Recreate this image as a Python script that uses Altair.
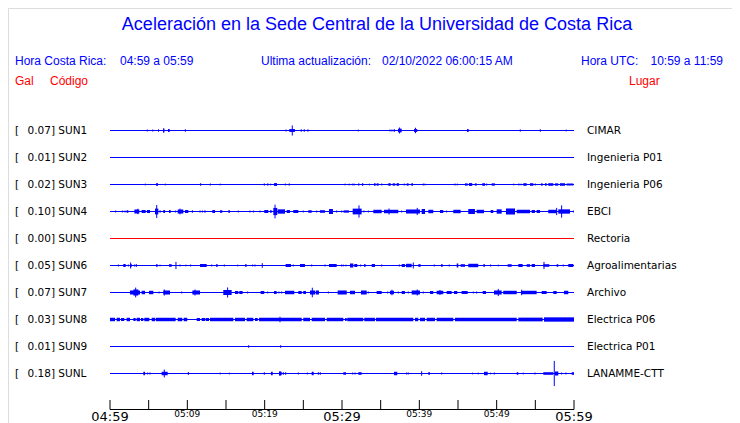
import altair as alt
import pandas as pd

# ---------------- data ----------------
CODES = ["SUN1", "SUN2", "SUN3", "SUN4", "SUN5", "SUN6", "SUN7", "SUN8", "SUN9", "SUNL"]
PEAKS = ["0.07", "0.01", "0.02", "0.10", "0.00", "0.05", "0.07", "0.03", "0.01", "0.18"]
PLACES = ["CIMAR", "Ingenieria P01", "Ingenieria P06", "EBCI", "Rectoria",
          "Agroalimentarias", "Archivo", "Electrica P06", "Electrica P01", "LANAMME-CTT"]

# events per station: (start minute, end minute, half amplitude in gal)
SUN1_EV = [(4.82, 4.82, 0.014), (5.52, 5.52, 0.014), (6.21, 6.34, 0.018), (6.89, 7.02, 0.021),
           (6.95, 6.95, 0.033), (7.50, 7.72, 0.02), (9.74, 9.74, 0.018), (22.76, 22.76, 0.014),
           (23.18, 23.92, 0.02), (23.57, 23.57, 0.07), (24.73, 24.73, 0.018), (25.12, 25.12, 0.018),
           (25.60, 25.60, 0.018), (32.11, 32.11, 0.012), (36.20, 36.20, 0.014), (36.46, 36.46, 0.014),
           (36.76, 36.76, 0.02), (37.24, 37.72, 0.025), (37.45, 37.45, 0.042), (39.31, 39.73, 0.02),
           (39.50, 39.50, 0.038), (46.16, 46.38, 0.02), (53.05, 53.05, 0.016), (55.64, 55.64, 0.018),
           (59.00, 59.00, 0.012)]
SUN2_EV = []
SUN3_EV = [(4.56, 4.56, 0.012), (5.95, 6.21, 0.018), (7.15, 7.15, 0.012), (11.72, 11.72, 0.018),
           (12.97, 12.97, 0.014), (14.26, 14.26, 0.012), (19.95, 19.95, 0.016), (20.34, 20.47, 0.016),
           (20.78, 20.78, 0.012), (21.21, 21.59, 0.02), (22.67, 22.67, 0.014), (23.18, 23.18, 0.016),
           (30.39, 30.39, 0.012), (30.94, 30.94, 0.012), (31.33, 31.33, 0.012), (31.55, 31.55, 0.014),
           (32.11, 32.24, 0.018), (32.58, 32.75, 0.018), (33.53, 33.53, 0.012), (34.14, 34.35, 0.016),
           (34.48, 34.74, 0.016), (35.13, 35.13, 0.014), (35.99, 36.29, 0.018), (36.55, 36.89, 0.016),
           (37.07, 37.37, 0.018), (38.05, 38.05, 0.014), (38.36, 38.62, 0.016), (38.96, 39.18, 0.016),
           (40.51, 40.51, 0.014), (40.73, 40.73, 0.012), (44.61, 44.61, 0.014), (44.91, 44.91, 0.012),
           (45.90, 46.25, 0.016), (46.42, 46.84, 0.02), (47.19, 47.41, 0.016), (48.14, 48.49, 0.018),
           (48.71, 48.71, 0.014), (49.35, 49.78, 0.016), (52.20, 52.20, 0.012), (52.88, 52.88, 0.014),
           (53.14, 53.14, 0.012), (53.44, 53.88, 0.018), (54.31, 54.74, 0.018), (54.99, 54.99, 0.014),
           (55.73, 55.95, 0.016), (56.25, 56.46, 0.016), (56.67, 57.32, 0.018), (57.54, 57.97, 0.016),
           (58.19, 58.83, 0.018), (59.05, 59.91, 0.014)]
SUN4_EV = [(0.73, 0.73, 0.014), (1.60, 1.60, 0.014), (1.94, 1.94, 0.014), (2.15, 2.37, 0.018),
           (3.15, 3.79, 0.028), (3.60, 3.60, 0.038), (4.09, 4.61, 0.021), (4.78, 5.17, 0.021),
           (5.82, 6.25, 0.04), (6.04, 6.04, 0.09), (6.47, 6.47, 0.018), (6.89, 7.11, 0.021),
           (7.63, 7.84, 0.021), (8.49, 8.49, 0.014), (8.75, 9.48, 0.028), (9.05, 9.05, 0.04),
           (9.70, 10.13, 0.021), (10.65, 10.65, 0.018), (11.64, 11.64, 0.014), (11.94, 11.94, 0.014),
           (12.28, 12.28, 0.018), (13.23, 13.58, 0.021), (14.22, 14.52, 0.018), (15.30, 15.52, 0.018),
           (16.59, 16.59, 0.014), (18.10, 18.10, 0.014), (18.53, 18.53, 0.014), (19.40, 19.40, 0.014),
           (19.95, 20.47, 0.021), (20.69, 20.91, 0.018), (21.12, 21.63, 0.05), (21.34, 21.34, 0.095),
           (21.68, 22.63, 0.03), (22.85, 23.27, 0.021), (23.70, 24.35, 0.021), (24.99, 24.99, 0.014),
           (25.64, 26.08, 0.018), (26.72, 26.72, 0.014), (27.15, 27.80, 0.018), (28.32, 28.83, 0.035),
           (29.31, 29.31, 0.014), (29.96, 29.96, 0.014), (30.20, 30.90, 0.016), (31.46, 31.81, 0.021),
           (31.38, 32.54, 0.04), (32.20, 32.20, 0.085), (32.84, 32.84, 0.014), (33.40, 33.40, 0.014),
           (34.05, 35.13, 0.024), (35.43, 37.28, 0.024), (36.08, 36.08, 0.042), (37.72, 37.72, 0.014),
           (38.27, 40.08, 0.028), (39.73, 39.73, 0.05), (40.30, 40.73, 0.035), (41.16, 41.80, 0.024),
           (42.67, 43.10, 0.021), (43.53, 43.53, 0.014), (44.39, 45.34, 0.024), (46.33, 47.19, 0.035),
           (47.41, 48.36, 0.024), (49.22, 49.56, 0.021), (50.00, 50.65, 0.03), (51.20, 52.37, 0.042),
           (52.59, 54.31, 0.024), (54.53, 54.95, 0.021), (55.17, 55.60, 0.021), (56.67, 57.76, 0.024),
           (57.76, 57.76, 0.05), (57.97, 59.48, 0.03), (58.40, 58.40, 0.085), (59.91, 59.91, 0.014)]
SUN5_EV = []
SUN6_EV = [(1.08, 1.08, 0.014), (1.72, 2.03, 0.021), (2.37, 2.37, 0.014), (2.59, 2.80, 0.02),
           (2.67, 2.67, 0.042), (3.15, 3.15, 0.014), (3.32, 3.49, 0.016), (5.95, 6.17, 0.016),
           (6.47, 6.47, 0.012), (7.63, 7.98, 0.018), (8.53, 8.53, 0.05), (9.05, 9.05, 0.014),
           (9.83, 9.83, 0.012), (10.43, 10.43, 0.014), (11.64, 12.50, 0.021), (13.15, 13.15, 0.014),
           (13.71, 13.93, 0.018), (14.78, 14.78, 0.014), (16.51, 16.51, 0.012), (17.46, 17.67, 0.018),
           (18.45, 18.45, 0.014), (18.75, 18.75, 0.014), (19.69, 19.69, 0.032), (22.71, 23.40, 0.021),
           (23.70, 23.70, 0.014), (24.57, 25.21, 0.021), (26.08, 26.08, 0.014), (27.80, 27.80, 0.014),
           (28.32, 29.31, 0.021), (29.96, 29.96, 0.014), (30.17, 30.17, 0.012), (30.51, 30.51, 0.012),
           (31.03, 31.46, 0.028), (31.59, 31.98, 0.021), (32.41, 32.41, 0.014), (32.84, 33.06, 0.018),
           (33.84, 34.26, 0.021), (35.13, 35.13, 0.014), (37.41, 37.41, 0.014), (37.72, 38.14, 0.021),
           (38.27, 39.01, 0.024), (39.22, 39.22, 0.042), (39.86, 40.17, 0.018), (41.93, 41.93, 0.014),
           (42.80, 43.02, 0.018), (43.87, 43.87, 0.014), (44.83, 45.04, 0.028), (45.34, 45.90, 0.018),
           (46.33, 47.62, 0.024), (48.27, 48.49, 0.018), (49.22, 49.22, 0.014), (50.21, 50.21, 0.012),
           (51.42, 51.94, 0.018), (52.80, 53.36, 0.021), (53.88, 54.31, 0.018), (54.53, 54.95, 0.021),
           (56.03, 56.80, 0.018), (56.12, 56.12, 0.05), (57.76, 57.97, 0.018), (58.61, 58.61, 0.014),
           (59.26, 59.91, 0.021)]
SUN7_EV = [(2.59, 3.88, 0.028), (3.02, 3.66, 0.042), (3.32, 3.32, 0.068), (4.09, 4.53, 0.024),
           (5.04, 5.60, 0.024), (6.34, 6.34, 0.014), (6.89, 7.76, 0.028), (7.02, 7.02, 0.042),
           (9.27, 9.27, 0.014), (10.65, 11.64, 0.028), (10.99, 10.99, 0.042), (14.65, 15.73, 0.035),
           (15.21, 15.21, 0.07), (16.16, 16.59, 0.021), (16.72, 17.15, 0.021), (17.80, 17.80, 0.014),
           (19.48, 19.95, 0.021), (20.39, 20.39, 0.014), (21.21, 21.55, 0.021), (21.85, 21.85, 0.014),
           (22.20, 22.20, 0.014), (22.63, 23.83, 0.024), (24.35, 24.79, 0.021), (24.99, 25.34, 0.021),
           (25.86, 26.51, 0.028), (26.16, 26.16, 0.066), (26.60, 27.02, 0.028), (28.23, 28.23, 0.014),
           (29.44, 30.61, 0.028), (31.03, 31.68, 0.024), (32.45, 33.19, 0.028), (33.40, 33.40, 0.014),
           (34.48, 35.13, 0.021), (35.91, 35.91, 0.014), (36.20, 36.72, 0.024), (36.46, 36.46, 0.038),
           (37.28, 37.28, 0.014), (37.72, 38.14, 0.021), (38.57, 38.57, 0.014), (39.01, 40.08, 0.028),
           (39.73, 39.73, 0.042), (40.51, 40.51, 0.014), (41.38, 41.80, 0.021), (42.24, 43.10, 0.024),
           (42.67, 42.67, 0.035), (43.53, 44.18, 0.021), (44.48, 44.91, 0.021), (45.47, 46.25, 0.021),
           (46.98, 46.98, 0.014), (47.41, 47.41, 0.014), (48.19, 48.62, 0.021), (49.65, 50.65, 0.028),
           (50.21, 50.21, 0.05), (50.85, 52.59, 0.024), (53.14, 55.17, 0.024), (53.23, 53.23, 0.038),
           (55.82, 56.46, 0.021), (57.32, 57.76, 0.021), (58.70, 59.26, 0.024)]
SUN8_EV = [(0.0, 0.65, 0.024), (0.86, 1.29, 0.024), (1.42, 1.85, 0.021), (2.15, 2.59, 0.024),
           (3.02, 3.32, 0.021), (3.45, 3.88, 0.024), (4.01, 4.31, 0.021), (4.44, 5.08, 0.024),
           (5.39, 5.82, 0.024), (5.91, 8.49, 0.024), (8.75, 9.35, 0.024), (9.53, 9.99, 0.024),
           (11.21, 11.64, 0.021), (11.85, 12.28, 0.021), (12.37, 12.80, 0.021), (12.93, 15.95, 0.024),
           (16.16, 17.46, 0.024), (17.67, 18.53, 0.024), (18.75, 19.10, 0.021), (19.27, 24.79, 0.024),
           (21.98, 21.98, 0.038), (24.99, 25.86, 0.024), (26.08, 27.80, 0.024), (28.02, 30.17, 0.024),
           (30.39, 30.61, 0.021), (30.68, 32.75, 0.024), (32.88, 34.26, 0.024), (34.39, 39.22, 0.024),
           (39.44, 39.86, 0.024), (40.08, 40.73, 0.024), (40.95, 42.02, 0.024), (42.24, 44.39, 0.024),
           (44.61, 52.59, 0.026), (52.80, 55.95, 0.026), (56.12, 60.0, 0.03)]
SUN9_EV = [(17.93, 17.93, 0.018), (22.07, 22.07, 0.018)]
SUNL_EV = [(4.31, 4.53, 0.024), (4.87, 4.87, 0.014), (5.17, 5.17, 0.014), (6.68, 7.46, 0.024),
           (7.02, 7.02, 0.055), (10.13, 10.13, 0.021), (14.26, 14.26, 0.012), (15.43, 15.43, 0.012),
           (18.36, 18.58, 0.024), (19.95, 19.95, 0.018), (20.82, 21.04, 0.024), (21.85, 22.20, 0.024),
           (21.98, 21.98, 0.035), (22.41, 22.41, 0.018), (22.71, 22.71, 0.018), (24.35, 24.35, 0.014),
           (25.51, 25.51, 0.014), (26.08, 26.34, 0.024), (26.94, 26.94, 0.018), (27.19, 27.19, 0.018),
           (30.17, 30.51, 0.018), (31.38, 31.38, 0.014), (31.68, 31.68, 0.014), (32.11, 32.54, 0.018),
           (36.72, 37.15, 0.024), (38.36, 38.36, 0.014), (38.57, 38.57, 0.014), (40.30, 40.30, 0.032),
           (41.16, 41.38, 0.018), (42.89, 42.89, 0.014), (46.90, 46.90, 0.012), (47.62, 47.62, 0.012),
           (48.36, 48.84, 0.024), (49.22, 49.22, 0.012), (49.69, 49.69, 0.014), (52.59, 52.80, 0.018),
           (53.44, 53.44, 0.012), (54.95, 54.95, 0.014), (56.03, 57.32, 0.018), (57.45, 57.45, 0.175),
           (57.54, 57.97, 0.028), (58.40, 58.40, 0.014), (58.96, 58.96, 0.014), (59.70, 60.0, 0.018)]
EVENTS = [SUN1_EV, SUN2_EV, SUN3_EV, SUN4_EV, SUN5_EV, SUN6_EV, SUN7_EV, SUN8_EV, SUN9_EV, SUNL_EV]

TICK_MINUTES = [0, 5, 10, 15, 20, 25, 30, 35, 40, 45, 50, 55, 60]
LABEL_MINUTES = [0, 10, 20, 30, 40, 50, 60]
LABEL_TEXT = ["04:59", "05:09", "05:19", "05:29", "05:39", "05:49", "05:59"]

TITLE = "Aceleración en la Sede Central de la Universidad de Costa Rica"

# ---------------- tables ----------------
SPACING = 0.375  # gal between traces
BLUE = "#0000ff"
RED = "#ff0000"

base_rows, ev_rows, lab_rows = [], [], []
for i, (code, peak, place, ev) in enumerate(zip(CODES, PEAKS, PLACES, EVENTS)):
    base = i * SPACING
    color = RED if peak == "0.00" else BLUE
    base_rows.append({"start": 0, "end": 60, "base": base, "color": color})
    lab_rows.append({"base": base, "left": f"{peak}] {code}", "place": place, "br": "["})
    for t0, t1, a in ev:
        ev_rows.append({"t0": t0, "t1": t1, "lo": base - a, "hi": base + a, "color": color})

bases = pd.DataFrame(base_rows)
events = pd.DataFrame(ev_rows)
bursts = events[events.t1 > events.t0]
spikes = events[events.t1 == events.t0]
labels = pd.DataFrame(lab_rows)
ticks = pd.DataFrame({"m": TICK_MINUTES})
tl = pd.DataFrame({"m": LABEL_MINUTES, "txt": LABEL_TEXT})
tl_major = tl[tl.m % 30 == 0]
tl_minor = tl[tl.m % 30 != 0]

xs = alt.Scale(domain=[0, 60], range=[102, 566], nice=False, zero=False)
ys = alt.Scale(domain=[0, 9 * SPACING], range=[122.5, 365.5], nice=False, zero=False)

baseline_layer = alt.Chart(bases).mark_rule(strokeWidth=1).encode(
    x=alt.X("start:Q", scale=xs, axis=None), x2="end:Q",
    y=alt.Y("base:Q", scale=ys, axis=None),
    color=alt.Color("color:N", scale=None))

burst_layer = alt.Chart(bursts).mark_rect().encode(
    x=alt.X("t0:Q", scale=xs, axis=None), x2="t1:Q",
    y=alt.Y("lo:Q", scale=ys, axis=None), y2="hi:Q",
    color=alt.Color("color:N", scale=None))

spike_layer = alt.Chart(spikes).mark_rule(strokeWidth=1).encode(
    x=alt.X("t0:Q", scale=xs, axis=None),
    y=alt.Y("lo:Q", scale=ys, axis=None), y2="hi:Q",
    color=alt.Color("color:N", scale=None))

LABEL_FONT = "DejaVu Sans"
bracket_layer = alt.Chart(labels).mark_text(align="left", baseline="middle", font=LABEL_FONT,
                                            fontSize=10.5, color="black").encode(
    x=alt.value(7), y=alt.Y("base:Q", scale=ys, axis=None), text="br:N")
left_layer = alt.Chart(labels).mark_text(align="left", baseline="middle", font=LABEL_FONT,
                                         fontSize=10.5, color="black").encode(
    x=alt.value(19.5), y=alt.Y("base:Q", scale=ys, axis=None), text="left:N")
right_layer = alt.Chart(labels).mark_text(align="left", baseline="middle", font=LABEL_FONT,
                                          fontSize=10.5, color="black").encode(
    x=alt.value(579), y=alt.Y("base:Q", scale=ys, axis=None), text="place:N")

axis_line = alt.Chart(pd.DataFrame({"a": [0], "b": [60]})).mark_rule(color="black", strokeWidth=1).encode(
    x=alt.X("a:Q", scale=xs, axis=None), x2="b:Q", y=alt.value(401.5))
tick_layer = alt.Chart(ticks).mark_rule(color="black", strokeWidth=1).encode(
    x=alt.X("m:Q", scale=xs, axis=None), y=alt.value(392), y2=alt.value(401.5))
major_lab = alt.Chart(tl_major).mark_text(align="center", baseline="alphabetic", font=LABEL_FONT,
                                          fontSize=13, color="black").encode(
    x=alt.X("m:Q", scale=xs, axis=None), y=alt.value(413), text="txt:N")
minor_lab = alt.Chart(tl_minor).mark_text(align="center", baseline="alphabetic", font=LABEL_FONT,
                                          fontSize=9, color="black").encode(
    x=alt.X("m:Q", scale=xs, axis=None), y=alt.value(409), text="txt:N")


def label(txt, x, y, size, color, align="left"):
    return alt.Chart(pd.DataFrame({"t": [txt]})).mark_text(
        align=align, baseline="middle", font="Liberation Sans", fontSize=size, color=color
    ).encode(x=alt.value(x), y=alt.value(y), text="t:N")


headers = [
    label(TITLE, 369, 16.5, 18, BLUE, align="center"),
    label("Hora Costa Rica:", 7, 53, 12, BLUE),
    label("04:59 a 05:59", 112, 53, 12, BLUE),
    label("Ultima actualización:", 253, 53, 12, BLUE),
    label("02/10/2022 06:00:15 AM", 374, 53, 12, BLUE),
    label("Hora UTC:", 573, 53, 12, BLUE),
    label("10:59 a 11:59", 715, 53, 12, BLUE, align="right"),
    label("Gal", 7, 73, 12, RED),
    label("Código", 42, 73, 12, RED),
    label("Lugar", 621, 73, 12, RED),
]

chart = alt.layer(
    baseline_layer, burst_layer, spike_layer,
    bracket_layer, left_layer, right_layer,
    axis_line, tick_layer, major_lab, minor_lab,
    *headers,
).properties(
    width=724, height=415,
    autosize=alt.AutoSizeParams(type="none"),
    padding=0,
).configure_view(stroke=None).configure(background="white")

chart.save("out.html", embed_options={"renderer": "svg", "actions": False})
